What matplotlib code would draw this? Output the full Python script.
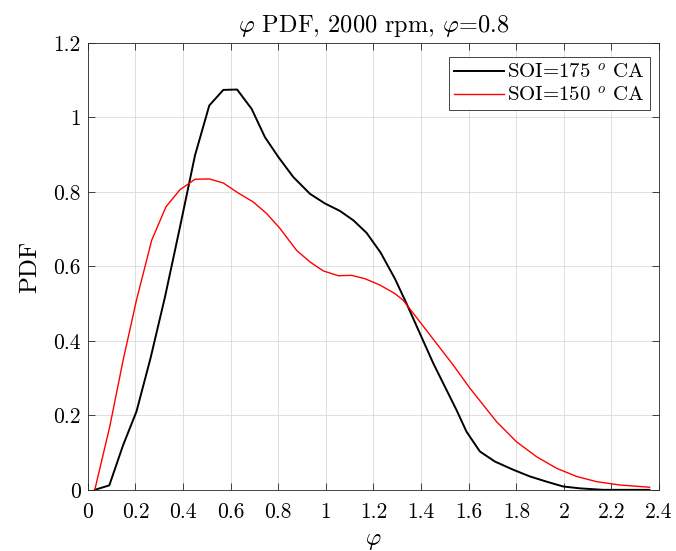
import numpy as np
import matplotlib
matplotlib.use('Agg')
import matplotlib.pyplot as plt
from matplotlib.ticker import FormatStrFormatter, MultipleLocator

# values
phi_175 = [0.029, 0.090, 0.148, 0.204, 0.263, 0.324, 0.387, 0.450, 0.510, 0.569,
           0.627, 0.688, 0.744, 0.800, 0.863, 0.933, 0.996, 1.059, 1.115, 1.171,
           1.230, 1.290, 1.339, 1.395, 1.451, 1.507, 1.549, 1.591, 1.647, 1.710,
           1.787, 1.857, 1.927, 1.997, 2.067, 2.165, 2.360]
pdf_175 = [0.0, 0.012, 0.12, 0.21, 0.353, 0.518, 0.706, 0.898, 1.032, 1.074,
           1.075, 1.023, 0.947, 0.894, 0.840, 0.795, 0.769, 0.749, 0.724, 0.690,
           0.637, 0.567, 0.500, 0.420, 0.340, 0.268, 0.214, 0.156, 0.103, 0.076,
           0.054, 0.036, 0.022, 0.009, 0.004, 0.0, 0.0]

phi_150 = [0.029, 0.092, 0.148, 0.204, 0.268, 0.328, 0.387, 0.450, 0.510, 0.569,
           0.632, 0.695, 0.751, 0.807, 0.877, 0.933, 0.989, 1.052, 1.108, 1.164,
           1.227, 1.290, 1.325, 1.395, 1.465, 1.535, 1.605, 1.661, 1.717, 1.801,
           1.885, 1.969, 2.053, 2.137, 2.235, 2.360]
pdf_150 = [0.0, 0.17, 0.348, 0.509, 0.67, 0.76, 0.806, 0.834, 0.835, 0.824,
           0.797, 0.773, 0.742, 0.702, 0.643, 0.612, 0.588, 0.575, 0.576, 0.567,
           0.550, 0.527, 0.509, 0.451, 0.393, 0.335, 0.273, 0.228, 0.183, 0.129,
           0.089, 0.058, 0.036, 0.022, 0.013, 0.007]

plt.rcParams['font.family'] = 'serif'
plt.rcParams['font.serif'] = ['cmr10']
plt.rcParams['mathtext.fontset'] = 'cm'
plt.rcParams['axes.formatter.use_mathtext'] = True

fig = plt.figure(figsize=(6.76, 5.51), dpi=100)
ax = fig.add_axes([0.130, 0.111, 0.845, 0.811])

ax.plot(phi_175, pdf_175, color='black', lw=1.4, label=r'SOI=175 $^o$ CA')
ax.plot(phi_150, pdf_150, color='red', lw=1.0, label=r'SOI=150 $^o$ CA')

ax.set_xlim(0, 2.4)
ax.set_ylim(0, 1.2)
ax.xaxis.set_major_locator(MultipleLocator(0.2))
ax.yaxis.set_major_locator(MultipleLocator(0.2))
ax.xaxis.set_major_formatter(FormatStrFormatter('%g'))
ax.yaxis.set_major_formatter(FormatStrFormatter('%g'))
ax.tick_params(direction='in', top=True, right=True, labelsize=15.5,
               color='0.15', length=5, width=0.6)
ax.tick_params(axis='x', pad=9)
ax.tick_params(axis='y', pad=5)
ax.grid(True, color='0.85', lw=0.6)
for s in ax.spines.values():
    s.set_color('0.15')
    s.set_linewidth(0.6)

ax.set_title(r'$\varphi$ PDF, 2000 rpm, $\varphi$=0.8', fontsize=17.5, pad=8)
ax.set_xlabel(r'$\varphi$', fontsize=17, labelpad=6)
ax.set_ylabel('PDF', fontsize=18, labelpad=9)

leg = ax.legend(loc='upper right', bbox_to_anchor=(0.984, 0.968),
                borderaxespad=0, fontsize=15, fancybox=False,
                framealpha=1, handlelength=2.4,
                handletextpad=0.15, borderpad=0.25, labelspacing=0.15)
leg.get_frame().set_edgecolor('0.15')
leg.get_frame().set_linewidth(0.6)

fig.savefig('out.png', dpi=100)
